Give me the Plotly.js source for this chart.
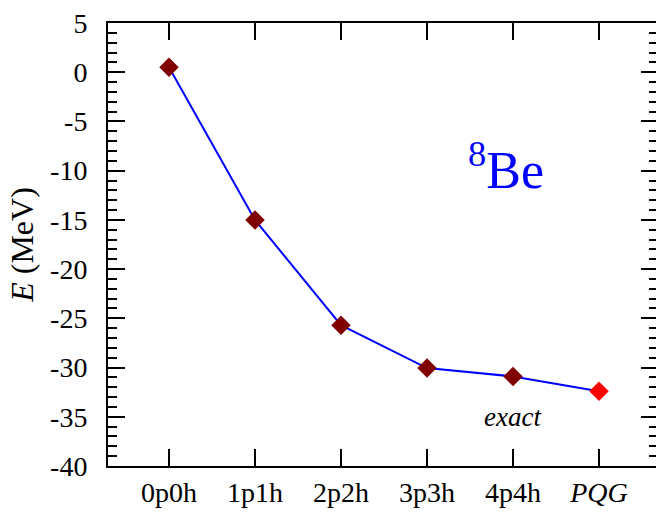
<!DOCTYPE html>
<html>
<head>
<meta charset="utf-8">
<script src="https://cdn.plot.ly/plotly-3.0.1.min.js"></script>
<style>html,body{margin:0;padding:0;overflow:hidden;background:#fff;}</style>
</head>
<body>
<div id="chart" style="width:660px;height:514px;"></div>
<script>
// Data
var categories = ["0p0h", "1p1h", "2p2h", "3p3h", "4p4h", "<i>PQG</i>"];
var energies = [0.5, -15.0, -25.7, -30.05, -30.9, -32.4];
var markerColors = ["#800000", "#800000", "#800000", "#800000", "#800000", "#ff0000"];
var yTickVals = [5, 0, -5, -10, -15, -20, -25, -30, -35, -40];
var yTickText = yTickVals.map(function (v) { return String(v); });

var xIdx = categories.map(function (c, i) { return i; });

var font = "Liberation Serif, Times New Roman, serif";

var trace = {
  x: xIdx,
  y: energies,
  type: "scatter",
  mode: "lines+markers",
  line: {color: "#0000ff", width: 2},
  marker: {symbol: "diamond", size: 15, color: markerColors},
  hoverinfo: "skip"
};

var layout = {
  width: 660,
  height: 514,
  margin: {l: 108, r: 2, t: 23, b: 48, pad: 0},
  paper_bgcolor: "#fff",
  plot_bgcolor: "#fff",
  showlegend: false,
  font: {family: font, color: "#000", size: 28},
  xaxis: {
    range: [-0.709, 5.686],
    tickvals: xIdx,
    ticktext: categories,
    ticks: "inside",
    ticklen: 17,
    tickwidth: 2,
    tickcolor: "#000",
    showline: true,
    linecolor: "#000",
    linewidth: 2,
    mirror: "ticks",
    showgrid: false,
    zeroline: false,
    tickfont: {family: font, size: 28, color: "#000"}
  },
  yaxis: {
    range: [-40, 5],
    tickvals: yTickVals,
    ticktext: yTickText,
    ticks: "inside",
    ticklen: 17,
    tickwidth: 2,
    tickcolor: "#000",
    minor: {dtick: 1, ticks: "inside", ticklen: 9, tickwidth: 2, tickcolor: "#000", showgrid: false},
    showline: true,
    linecolor: "#000",
    linewidth: 2,
    mirror: "ticks",
    showgrid: false,
    zeroline: false,
    tickfont: {family: font, size: 28, color: "#000"},
    ticklabelstandoff: 13,
    title: {text: "<i>E</i> (MeV)", font: {family: font, size: 32, color: "#000"}, standoff: 7}
  },
  annotations: [
    {
      x: 4, y: -35.0, xref: "x", yref: "y",
      text: "<i>exact</i>", showarrow: false,
      font: {family: font, size: 27, color: "#000"}
    },
    {
      x: 3.92, y: -9.6, xref: "x", yref: "y",
      text: "<sup>8</sup>Be", showarrow: false,
      font: {family: font, size: 52, color: "#0000ff"}
    }
  ]
};

Plotly.newPlot("chart", [trace], layout, {displayModeBar: false, staticPlot: true});
</script>
</body>
</html>
